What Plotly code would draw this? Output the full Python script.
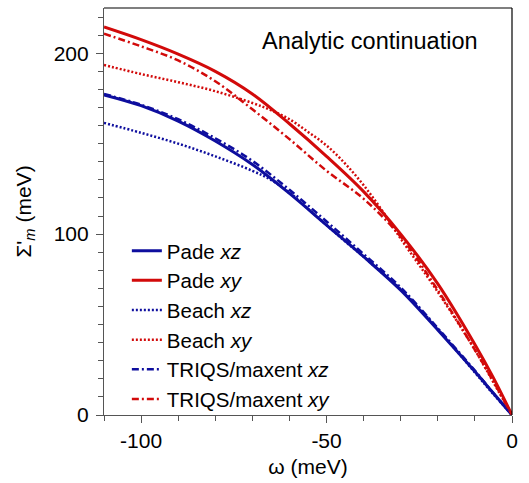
import plotly.graph_objects as go

# frequency grid (meV)
omega = [-110, -100, -90, -80, -70, -60, -50, -40, -30, -20, -10, -5, 0]

pade_xz = [177, 171, 162.5, 151.5, 138.5, 122.5, 105, 87.5, 69, 47, 24, 12, 0]
pade_xy = [214.5, 207.5, 199.5, 190, 177.5, 161, 143, 123.5, 100, 72.5, 39, 20.5, 0]
triqs_xz = [177.5, 171.5, 163.5, 153, 140.5, 124.5, 107, 89, 70.5, 48, 24.5, 12, 0]
triqs_xy = [210.8, 203.8, 196, 184.5, 169, 152.5, 135, 119.5, 98.5, 69, 36, 18.5, 0]

omega_beach = [-110, -100, -90, -80, -70, -65, -60, -55, -50, -45, -40, -35, -30, -20, -10, -5, 0]
beach_xz = [161.5, 156, 150, 143, 135, 130, 123, 114, 105, 96, 87.5, 78.5, 69.5, 47.5, 23.5, 11.5, 0]
beach_xy = [193.5, 188.5, 184, 179, 172.5, 168.5, 163.5, 156.5, 149, 139, 127, 113, 97.5, 68, 36, 18, 0]

x_ticks = [-100, -50, 0]
x_tick_text = ["-100", "-50", "0"]
y_ticks = [0, 100, 200]
y_tick_text = ["0", "100", "200"]

BLUE = "#0e0e9e"
RED = "#d20a0a"
FONT = "Liberation Sans, Arial, sans-serif"

series = [
    ("Pade <i>xz</i>", omega, pade_xz, BLUE, "solid", 3),
    ("Pade <i>xy</i>", omega, pade_xy, RED, "solid", 3),
    ("Beach <i>xz</i>", omega_beach, beach_xz, BLUE, "2px,2px", 2.5),
    ("Beach <i>xy</i>", omega_beach, beach_xy, RED, "2px,2px", 2.5),
    ("TRIQS/maxent <i>xz</i>", omega, triqs_xz, BLUE, "7px,3px,2px,3px", 2.5),
    ("TRIQS/maxent <i>xy</i>", omega, triqs_xy, RED, "7px,3px,2px,3px", 2.5),
]

fig = go.Figure()
for name, xs, ys, col, dash, w in series:
    fig.add_trace(go.Scatter(
        x=xs, y=ys, mode="lines", name=name,
        line=dict(color=col, dash=dash, width=w, shape="spline", smoothing=1.0),
    ))

axis_common = dict(
    showgrid=False, zeroline=False, showline=True, linecolor="#555", linewidth=1.2,
    ticks="outside", ticklen=7, tickcolor="#555", tickwidth=1.2,
    tickfont=dict(family=FONT, size=21, color="black"),
    title_font=dict(family=FONT, size=21, color="black"),
)
minor_common = dict(dtick=10, ticklen=5, tickcolor="#555", ticks="outside", tickwidth=1.2)

fig.update_xaxes(
    range=[-110, 0], tickmode="array", tickvals=x_ticks, ticktext=x_tick_text,
    minor=dict(tick0=0, **minor_common),
    title_text="ω (meV)", title_standoff=8, **axis_common,
)
fig.update_yaxes(
    range=[0, 225], tickmode="array", tickvals=y_ticks, ticktext=y_tick_text,
    minor=dict(tick0=0, **minor_common),
    title_text="Σ'<sub><i>m</i></sub> (meV)", title_standoff=16, ticklabelstandoff=3, **axis_common,
)

# top and right frame
fig.add_shape(type="line", xref="paper", yref="paper", x0=0, x1=1, y0=1, y1=1,
              line=dict(color="black", width=1.2))
fig.add_shape(type="line", xref="paper", yref="paper", x0=1, x1=1, y0=0, y1=1,
              line=dict(color="black", width=1.2))

fig.add_annotation(text="Analytic continuation", xref="paper", yref="paper",
                   x=0.9216, y=0.9195, xanchor="right", yanchor="middle", showarrow=False,
                   font=dict(family=FONT, size=23.5, color="black"))

fig.update_layout(
    width=529, height=483,
    margin=dict(l=104, r=17, t=8, b=65),
    paper_bgcolor="white", plot_bgcolor="white",
    showlegend=True,
    legend=dict(x=0.056, y=0.4524, xanchor="left", yanchor="top",
                bgcolor="rgba(0,0,0,0)", borderwidth=0, tracegroupgap=0,
                font=dict(family=FONT, size=20.5, color="black")),
)

fig.write_html("out.html")
